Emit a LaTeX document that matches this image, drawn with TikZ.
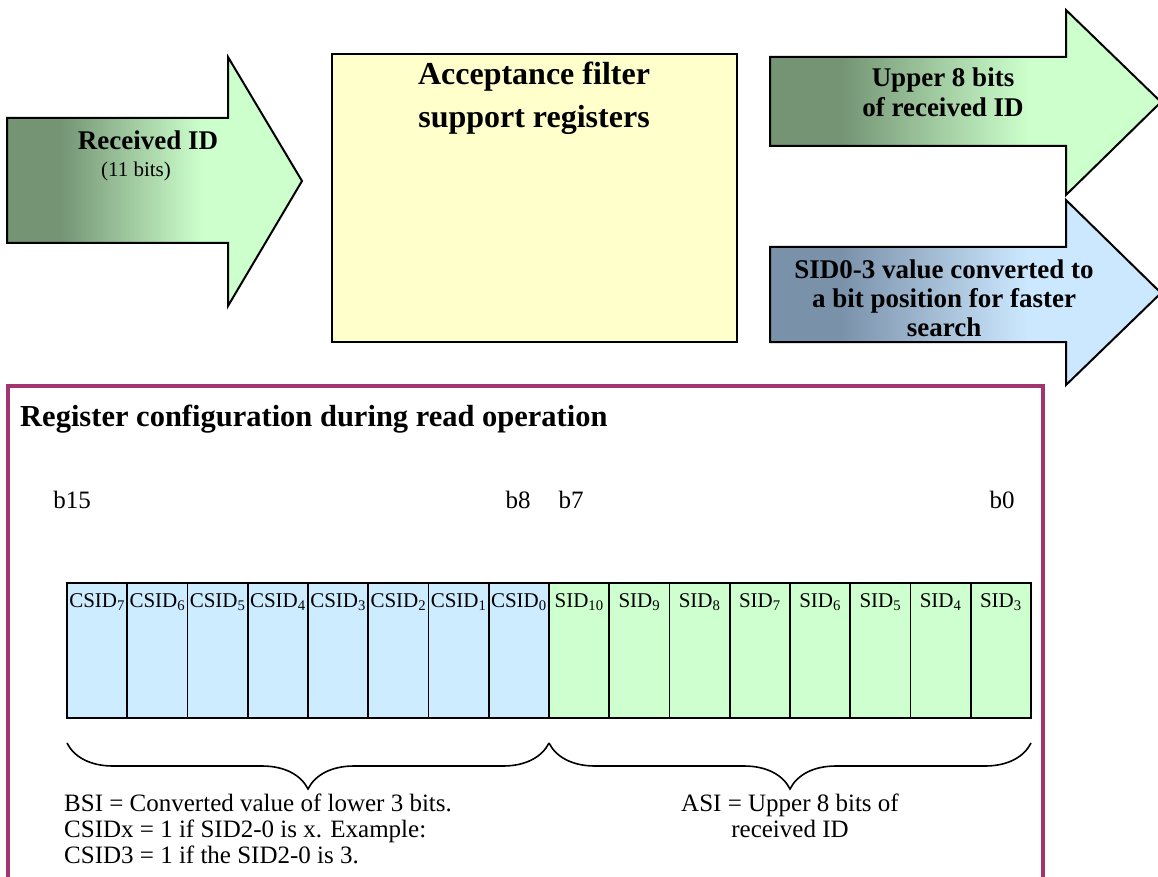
\documentclass[tikz,border=0pt]{standalone}
\usepackage{fontspec}
\setmainfont{Liberation Serif}
\usetikzlibrary{decorations.pathreplacing}

\definecolor{dkgreen}{RGB}{116,148,116}
\definecolor{ltgreen}{RGB}{204,255,204}
\definecolor{dkblue}{RGB}{122,145,170}
\definecolor{ltblue}{RGB}{204,232,255}
\definecolor{cellblue}{RGB}{206,236,255}
\definecolor{cellgreen}{RGB}{206,255,206}
\definecolor{boxyellow}{RGB}{255,255,204}
\definecolor{framecol}{RGB}{162,52,112}

\pgfdeclarehorizontalshading{greenfade}{100bp}{color(0bp)=(dkgreen); color(34bp)=(dkgreen); color(58bp)=(ltgreen); color(100bp)=(ltgreen)}
\pgfdeclarehorizontalshading{bluefade}{100bp}{color(0bp)=(dkblue); color(34bp)=(dkblue); color(58bp)=(ltblue); color(100bp)=(ltblue)}

\tikzset{
    bigarrow/.style={draw=black, line width=2pt, line join=miter},
    boldtext/.style={font=\fontsize{27}{30}\selectfont\bfseries, align=center, inner sep=0pt},
    plaintext/.style={font=\fontsize{25}{26}\selectfont, inner sep=0pt},
    cellline/.style={draw=black, line width=1.6pt},
    celltext/.style={font=\fontsize{21}{24}\selectfont, inner sep=0pt},
    bitbrace/.style={decorate, decoration={brace, mirror, amplitude=46pt}, line width=1.6pt}
}

\begin{document}
\begin{tikzpicture}[x=1pt, y=-1pt]
    \useasboundingbox (0,0) rectangle (1158,877);

    % incoming ID arrow
    \draw[bigarrow, shading=greenfade] (7,118) -- (228,118) -- (228,57) -- (302,181)
        -- (228,306) -- (228,243) -- (7,243) -- cycle;
    \node[boldtext] (recv) at (148,140) {Received ID};
    \node[plaintext, font=\fontsize{21}{24}\selectfont] (recvbits) at (136,171) {(11 bits)};

    % filter registers
    \draw[line width=2pt, fill=boxyellow] (332,54) rectangle (737,342);
    \node[boldtext, font=\fontsize{32}{43}\selectfont\bfseries, anchor=base] (filter) at (534,128) {Acceptance filter\\support registers};

    % outgoing arrows
    \draw[bigarrow, shading=greenfade] (770,57) -- (1066,57) -- (1066,10) -- (1161,102)
        -- (1066,195) -- (1066,146) -- (770,146) -- cycle;
    \node[boldtext] (upper) at (943,92) {Upper 8 bits\\of received ID};

    \draw[bigarrow, shading=bluefade] (770,247) -- (1066,247) -- (1066,200) -- (1161,293)
        -- (1066,385) -- (1066,342) -- (770,342) -- cycle;
    \node[boldtext, font=\fontsize{27}{29}\selectfont\bfseries] (sidconv) at (944,298) {SID0-3 value converted to\\a bit position for faster\\search};

    % register frame
    \draw[framecol, line width=4pt] (8,890) -- (8,386) -- (1043,386) -- (1043,890);
    \node[font=\fontsize{30.5}{32}\selectfont\bfseries, anchor=base west, inner sep=0pt] (regtitle) at (20,426) {Register configuration during read operation};

    \node[plaintext, anchor=base] (b15) at (72,508) {b15};
    \node[plaintext, anchor=base] (b8) at (518,508) {b8};
    \node[plaintext, anchor=base] (b7) at (571,508) {b7};
    \node[plaintext, anchor=base] (b0) at (1002,508) {b0};

    \foreach \i in {0,...,7}{
        \pgfmathsetmacro\cx{67+60.25*\i}
        \pgfmathtruncatemacro\cn{7-\i}
        \draw[cellline, fill=cellblue] (\cx,583) rectangle ++(60.25,135);
        \node[celltext] (csid\cn) at (\cx+30.1,602) {CSID\textsubscript{\cn}};
    }
    \foreach \i in {0,...,7}{
        \pgfmathsetmacro\cx{549+60.25*\i}
        \pgfmathtruncatemacro\cn{10-\i}
        \draw[cellline, fill=cellgreen] (\cx,583) rectangle ++(60.25,135);
        \node[celltext] (sid\cn) at (\cx+30.1,602) {SID\textsubscript{\cn}};
    }

    % braces
    \coordinate (lowleft) at (67,743);
    \coordinate (lowmid) at (549,743);
    \coordinate (lowright) at (1031,743);
    \draw[bitbrace] (lowleft) -- (lowmid);
    \draw[bitbrace] (lowmid) -- (lowright);

    \node[plaintext, align=left, anchor=base west] (bsi) at (64,863)
        {BSI = Converted value of lower 3 bits.\\CSIDx = 1 if SID2-0 is x. Example:\\CSID3 = 1 if the SID2-0 is 3.};
    \node[plaintext, align=center, anchor=base] (asi) at (790,837)
        {ASI = Upper 8 bits of\\received ID};

\end{tikzpicture}
\end{document}
